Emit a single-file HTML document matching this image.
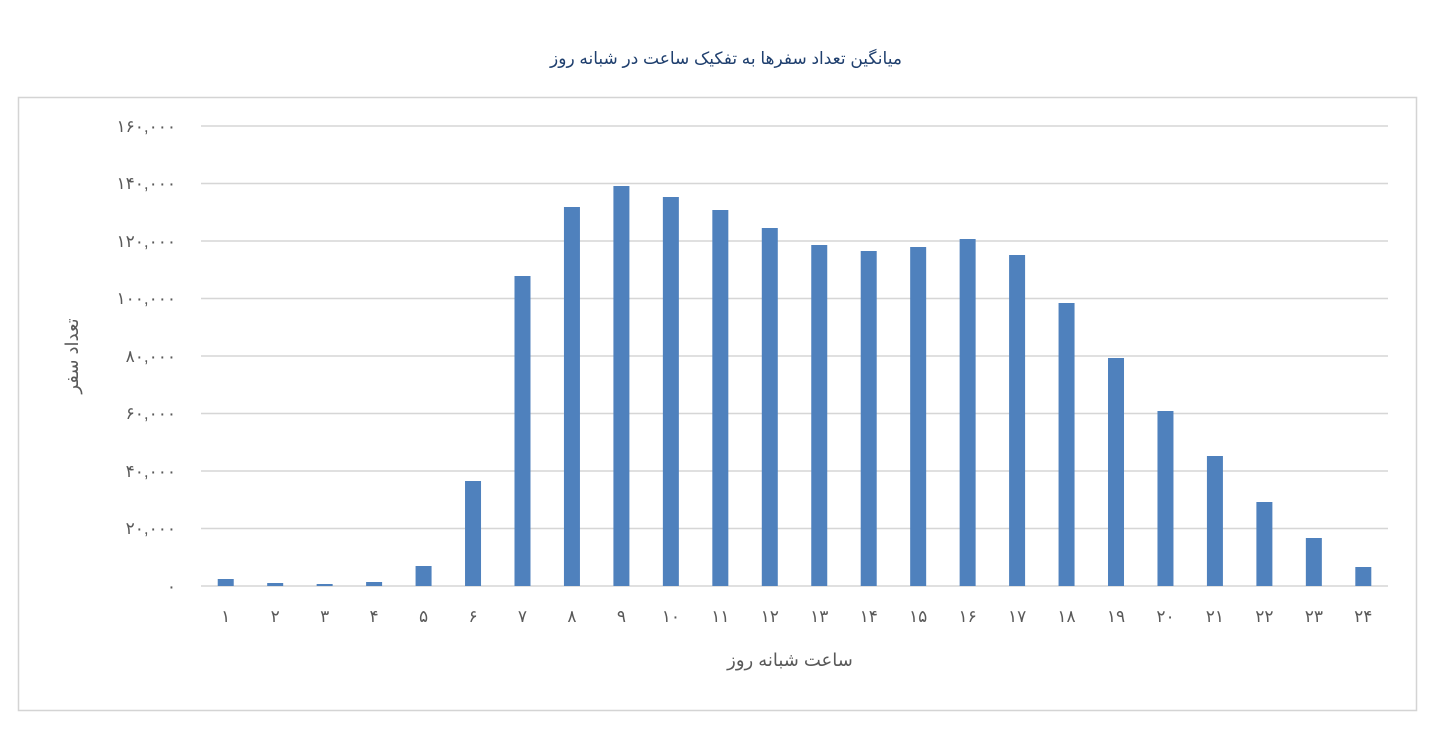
<!DOCTYPE html>
<html><head><meta charset="utf-8"><style>
html,body{margin:0;padding:0;background:#fff;width:1442px;height:735px;overflow:hidden}
svg text{font-family:"Liberation Sans","Noto Sans CJK SC","DejaVu Sans",sans-serif}
</style></head><body>
<svg width="1442" height="735" xmlns="http://www.w3.org/2000/svg">
<rect x="0" y="0" width="1442" height="735" fill="#fff"/>
<text x="726" y="64" text-anchor="middle" font-size="17" fill="#1f3f6e" direction="rtl">میانگین تعداد سفرها به تفکیک ساعت در شبانه روز</text>
<rect x="18.5" y="97.5" width="1398" height="613" fill="none" stroke="#d4d4d4" stroke-width="1.5"/>
<g stroke="#d6d6d6" stroke-width="1.5">
<line x1="201" x2="1388" y1="126" y2="126"/>
<line x1="201" x2="1388" y1="183.5" y2="183.5"/>
<line x1="201" x2="1388" y1="241" y2="241"/>
<line x1="201" x2="1388" y1="298.5" y2="298.5"/>
<line x1="201" x2="1388" y1="356" y2="356"/>
<line x1="201" x2="1388" y1="413.5" y2="413.5"/>
<line x1="201" x2="1388" y1="471" y2="471"/>
<line x1="201" x2="1388" y1="528.5" y2="528.5"/>
<line x1="201" x2="1388" y1="586" y2="586"/>
</g>
<g font-size="17" fill="#595959" text-anchor="end">
<text x="176" y="132">۱۶۰,۰۰۰</text>
<text x="176" y="189">۱۴۰,۰۰۰</text>
<text x="176" y="247">۱۲۰,۰۰۰</text>
<text x="176" y="304">۱۰۰,۰۰۰</text>
<text x="176" y="362">۸۰,۰۰۰</text>
<text x="176" y="419">۶۰,۰۰۰</text>
<text x="176" y="477">۴۰,۰۰۰</text>
<text x="176" y="534">۲۰,۰۰۰</text>
<text x="176" y="592">۰</text>
</g>
<g fill="#4f81bd" id="bars"></g>
<g font-size="17" fill="#595959" text-anchor="middle" id="xl"></g>
<text x="790" y="666" text-anchor="middle" font-size="18" fill="#595959" direction="rtl">ساعت شبانه روز</text>
<text transform="translate(78,356) rotate(-90)" text-anchor="middle" font-size="18" fill="#595959" direction="rtl">تعداد سفر</text>
<script>
var tops=[579,583,584,582,566,481,276,207,186,197,210,228,245,251,247,239,255,303,358,411,456,502,538,567];
var d="۰۱۲۳۴۵۶۷۸۹";
function fa(n){return String(n).split('').map(function(c){return d[+c]}).join('')}
var b=document.getElementById('bars'),x=document.getElementById('xl'),ns="http://www.w3.org/2000/svg";
for(var i=0;i<24;i++){var cx=201+49.46*(i+0.5);
var r=document.createElementNS(ns,'rect');r.setAttribute('x',cx-8);r.setAttribute('y',tops[i]);r.setAttribute('width',16);r.setAttribute('height',586-tops[i]);b.appendChild(r);
var t=document.createElementNS(ns,'text');t.setAttribute('x',cx);t.setAttribute('y',622);t.textContent=fa(i+1);x.appendChild(t);}
</script>
</svg>
</body></html>
